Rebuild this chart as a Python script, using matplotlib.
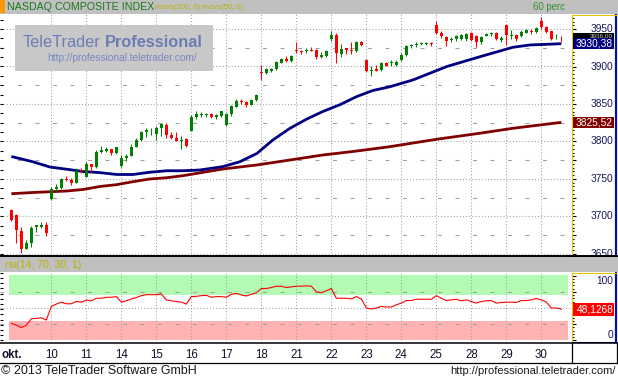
import numpy as np
import matplotlib
matplotlib.use("Agg")
import matplotlib.pyplot as plt
from matplotlib.patches import Rectangle
from matplotlib.ticker import MultipleLocator
from matplotlib.transforms import blended_transform_factory
from matplotlib import font_manager

# ================= data =================
TITLE = "NASDAQ COMPOSITE INDEX"
INDICATORS = "movs(200, 0) movs(50, 0)"
RSI_TITLE = "rsi(14, 70, 30, 1)"
MONTH = "okt."
DAYS = ["9", "10", "11", "14", "15", "16", "17", "18", "21", "22", "23", "24", "25", "28", "29", "30"]
BARS_PER_DAY = [8, 7, 7, 7, 7, 7, 7, 7, 7, 7, 7, 7, 7, 7, 7, 5]

opens = [3709, 3702, 3681, 3657, 3665, 3686, 3686, 3688,
         3723, 3737, 3738, 3750, 3749, 3745, 3762,
         3753, 3770, 3766, 3786, 3787, 3790, 3785,
         3767, 3778, 3781, 3793, 3802, 3812, 3816,
         3810, 3818, 3822, 3809, 3805, 3801, 3803,
         3814, 3832, 3835, 3835, 3837, 3832, 3834,
         3822, 3836, 3846, 3854, 3852, 3849, 3855,
         3893, 3891, 3894, 3897, 3905, 3910, 3907,
         3922, 3921, 3920, 3922, 3922, 3913, 3914,
         3936, 3942, 3917, 3924, 3922, 3920, 3933,
         3908, 3894, 3896, 3895, 3905, 3905, 3902,
         3909, 3915, 3927, 3928, 3930, 3930, 3931,
         3955, 3945, 3939, 3935, 3936, 3937, 3936,
         3945, 3941, 3933, 3941, 3943, 3945, 3935,
         3955, 3941, 3942, 3940, 3945, 3947, 3946,
         3961, 3952, 3947, 3936, 3937]
highs = [3710, 3703, 3686, 3669, 3687, 3689, 3692, 3692,
         3739, 3743, 3751, 3754, 3751, 3764, 3764,
         3772, 3770, 3789, 3794, 3793, 3790, 3793,
         3782, 3783, 3797, 3804, 3814, 3818, 3818,
         3821, 3825, 3824, 3812, 3812, 3807, 3805,
         3835, 3841, 3839, 3838, 3838, 3837, 3841,
         3838, 3849, 3856, 3857, 3854, 3856, 3863,
         3902, 3898, 3898, 3907, 3911, 3914, 3915,
         3932, 3922, 3924, 3926, 3923, 3919, 3922,
         3947, 3944, 3930, 3925, 3932, 3934, 3934,
         3910, 3900, 3902, 3906, 3906, 3909, 3908,
         3918, 3929, 3930, 3932, 3932, 3932, 3932,
         3961, 3947, 3940, 3939, 3942, 3943, 3944,
         3946, 3942, 3941, 3944, 3946, 3946, 3940,
         3955, 3948, 3943, 3949, 3950, 3950, 3953,
         3966, 3954, 3947, 3943, 3940]
lows = [3694, 3664, 3651, 3656, 3659, 3679, 3684, 3674,
        3722, 3734, 3737, 3747, 3742, 3744, 3758,
        3752, 3759, 3765, 3785, 3786, 3782, 3783,
        3766, 3774, 3781, 3792, 3801, 3806, 3808,
        3802, 3807, 3805, 3803, 3800, 3790, 3793,
        3814, 3830, 3833, 3833, 3831, 3830, 3833,
        3821, 3834, 3846, 3850, 3846, 3848, 3854,
        3882, 3890, 3892, 3895, 3904, 3906, 3906,
        3918, 3916, 3918, 3921, 3910, 3911, 3913,
        3934, 3904, 3912, 3916, 3916, 3919, 3927,
        3892, 3887, 3894, 3894, 3900, 3900, 3901,
        3907, 3914, 3924, 3926, 3928, 3929, 3927,
        3943, 3938, 3927, 3932, 3934, 3935, 3934,
        3934, 3926, 3930, 3940, 3941, 3935, 3932,
        3929, 3936, 3934, 3939, 3944, 3943, 3945,
        3950, 3944, 3935, 3936, 3933]
closes = [3695, 3682, 3657, 3664, 3684, 3688, 3688, 3678,
          3737, 3739, 3750, 3748, 3745, 3760, 3760,
          3770, 3766, 3786, 3788, 3790, 3785, 3792,
          3778, 3781, 3793, 3802, 3812, 3815, 3817,
          3818, 3823, 3809, 3805, 3801, 3802, 3794,
          3832, 3836, 3837, 3836, 3832, 3835, 3840,
          3836, 3847, 3854, 3852, 3849, 3855, 3862,
          3891, 3896, 3897, 3906, 3910, 3907, 3914,
          3920, 3919, 3922, 3921, 3912, 3915, 3920,
          3942, 3918, 3923, 3922, 3921, 3932, 3928,
          3894, 3895, 3894, 3905, 3901, 3906, 3906,
          3915, 3927, 3929, 3930, 3931, 3931, 3930,
          3945, 3940, 3934, 3937, 3941, 3942, 3943,
          3935, 3932, 3939, 3943, 3945, 3937, 3938,
          3942, 3942, 3936, 3946, 3948, 3946, 3951,
          3952, 3946, 3937, 3937, 3936]

# moving averages (bar position, value)
ma50_x = [0, 4.3, 7.7, 11.1, 14.3, 17.7, 21.1, 24.3, 27.7, 31.1, 34.3, 37.7,
          42.3, 45.7, 49.1, 52.3, 55.7, 59.1, 62.3, 65.7, 69.1, 72.3, 75.7,
          80.3, 87.1, 93.7, 100.3, 103.7, 110]
ma50_v = [3780, 3773, 3766, 3763, 3760, 3758.5, 3756, 3756, 3759, 3761, 3761, 3762,
          3766.5, 3773, 3784, 3802, 3817.5, 3830, 3840, 3849, 3860, 3868, 3873,
          3882, 3900, 3913, 3925.6, 3928.7, 3930.38]
ma200_x = [0, 4.3, 11.1, 14.3, 17.7, 21.1, 24.3, 27.7, 31.1, 34.3, 42.3, 49.1,
           55.7, 62.3, 69.1, 75.7, 85.1, 93.7, 100.3, 110]
ma200_v = [3730.4, 3732, 3734, 3736, 3740, 3742.5, 3746.4, 3750, 3751.7, 3754.4, 3763.3, 3768.7,
           3775.3, 3782, 3787.3, 3793.1, 3803, 3811, 3817.6, 3825.52]

rsi = [26.5, 23.5, 20, 23.5, 33.5, 34, 35, 31.5,
       52.5, 56, 59, 56.5, 56.5, 60, 59,
       62, 61, 65, 65, 66.5, 66.5, 67.5,
       59, 61, 64, 66, 69, 70.5, 70.5,
       70.5, 71.5, 62.5, 61, 60, 59, 56,
       67.5, 68, 69, 69.5, 66.5, 67.5, 67.5,
       66.5, 71, 72.5, 70, 68.5, 71, 73.5,
       80, 80, 81.5, 83.5, 83.5, 81.5, 82.5,
       83.5, 83.5, 84, 83.5, 75, 73.5, 76.5,
       80, 65, 65, 65, 64, 67.5, 64,
       50, 48.5, 50, 52.5, 51.5, 51.5, 55,
       57.5, 61.5, 61.5, 63.5, 63.5, 63.5, 63.5,
       69, 65, 61.5, 62.5, 63.5, 61, 62.5,
       60, 57.5, 60, 61, 61.5, 57.5, 58.5,
       59, 59, 58.5, 61.5, 61.5, 62.5, 64.5,
       62.5, 59, 50, 50, 48.1268]

PRICE_TICKS = [3650, 3700, 3750, 3800, 3850, 3900, 3950]
RSI_TICKS = [0, 100]

# ================= style =================
W, H = 618, 381
FONT = "Liberation Sans"
GRID = "#a0a0a0"
HEAD = "#c0c0c0"
YELLOW = "#f0c000"
BLUE = "#0010a0"
LABEL = "#16165a"
DOT = (0, (1, 2))
DASH = (0, (3.8, 13))

names = {f.name for f in font_manager.fontManager.ttflist}
HAS_NARROW = "Liberation Sans Narrow" in names
NARROW = "Liberation Sans Narrow" if HAS_NARROW else FONT
plt.rcParams["font.family"] = [FONT, "DejaVu Sans"]


def rect(x0, y0, x1, y1):
    return [x0 / W, 1 - y1 / H, (x1 - x0) / W, (y1 - y0) / H]


def fmt(v, d):
    return f"{v:.{d}f}".replace(".", ",")


def plot_chart():
    o = np.array(opens, float)
    h = np.array(highs, float)
    l = np.array(lows, float)
    c = np.array(closes, float)
    idx = np.arange(len(c))
    day_starts = np.cumsum([0] + BARS_PER_DAY[:-1])[1:]
    xlim = (-2.2667, 112.1333)

    fig = plt.figure(figsize=(W / 100, H / 100), dpi=100)
    fig.patch.set_facecolor("white")

    # ---------- main price panel ----------
    ax = fig.add_axes(rect(0, 14, 572, 256))
    ax.set_xlim(*xlim)
    ax.set_ylim(3647.33, 3970)
    for s in ax.spines.values():
        s.set_visible(False)
    ax.set_xticks([])
    ax.yaxis.set_major_locator(MultipleLocator(12.5))
    ax.tick_params(axis="y", direction="in", length=2.2, width=0.8, labelleft=False)

    for d in day_starts:
        ax.axvline(d, color=GRID, lw=0.75, ls=DOT, zorder=1)
    for v in PRICE_TICKS:
        ax.axhline(v, color=GRID, lw=0.75, ls=DOT, zorder=1)
    for v in PRICE_TICKS[:-1]:
        ax.axhline(v + 25, color=GRID, lw=0.75, ls=DASH, zorder=1)

    ax.plot(ma200_x, ma200_v, color="#800000", lw=2.0, zorder=3, solid_capstyle="butt")
    ax.plot(ma50_x, ma50_v, color="#000080", lw=2.0, zorder=3, solid_capstyle="butt")

    cols = np.where(c >= o, "#008000", "#ff0000")
    ax.vlines(idx, l, h, colors=cols, lw=0.75, zorder=4)
    body = np.maximum(np.abs(c - o), 1.2)
    ax.bar(idx, body, bottom=np.minimum(o, c), width=0.6, color=cols, lw=0, zorder=5)

    # right price scale
    axr = fig.add_axes(rect(572, 15, 616, 256))
    axr.set_xlim(0, 1)
    axr.set_ylim(3647.33, 3968.67)
    axr.set_xticks([])
    axr.yaxis.set_major_locator(MultipleLocator(25))
    axr.yaxis.set_minor_locator(MultipleLocator(5))
    axr.tick_params(axis="y", which="major", direction="in", length=3, width=0.8, labelleft=False)
    axr.tick_params(axis="y", which="minor", direction="in", length=1.6, width=0.8)
    axr.spines["left"].set_color(YELLOW)
    axr.spines["top"].set_color(YELLOW)
    axr.spines["right"].set_color(BLUE)
    axr.spines["right"].set_linewidth(1.6)
    axr.spines["bottom"].set_color(BLUE)
    tr = blended_transform_factory(axr.transAxes, axr.transData)
    for v in PRICE_TICKS:
        axr.text(0.93, v, str(v), transform=tr, ha="right", va="center",
                 fontsize=7.3, color=LABEL, clip_on=False)

    # last-close box sits mostly under the ma50 box, only its top strip shows
    top50 = ma50_v[-1] + 7.3
    axr.add_patch(Rectangle((0.015, top50), 0.945, 7.0, transform=tr,
                            facecolor="black", edgecolor="none", zorder=3))
    axr.text(0.93, top50 + 3.5, fmt(c[-1], 2), transform=tr, ha="right", va="center",
             fontsize=4.6, color="#d0d0d0", zorder=3)
    for k, (v, col) in enumerate([(ma50_v[-1], "#000080"), (ma200_v[-1], "#800000")]):
        axr.add_patch(Rectangle((0.015, v - 7.3), 0.945, 14.6, transform=tr,
                                facecolor=col, edgecolor="none", zorder=4 + k))
        axr.text(0.93, v, fmt(v, 2), transform=tr, ha="right", va="center",
                 fontsize=7.3, color="white", zorder=4 + k)

    # ---------- RSI panel ----------
    ax2 = fig.add_axes(rect(0, 272, 572, 343))
    ax2.set_xlim(*xlim)
    ax2.set_ylim(-3.85, 105.38)
    for s in ax2.spines.values():
        s.set_visible(False)
    ax2.set_xticks([])
    ax2.yaxis.set_major_locator(MultipleLocator(8))
    ax2.tick_params(axis="y", direction="in", length=2.2, width=0.8, labelleft=False)
    band_x = [-0.47, len(c) + 0.33]
    ax2.fill_between(band_x, 70, 100, color="#b3fbb3", lw=0, zorder=0)
    ax2.fill_between(band_x, 0, 30, color="#ffb3b3", lw=0, zorder=0)
    for d in day_starts:
        ax2.axvline(d, color=GRID, lw=0.75, ls=DOT, zorder=1)
    ax2.axhline(50, color=GRID, lw=0.75, ls=DOT, zorder=1)
    for v in (25, 75):
        ax2.axhline(v, color=GRID, lw=0.75, ls=DASH, zorder=1)
    ax2.plot(idx, rsi, color="#ff0000", lw=0.8, zorder=4)

    axr2 = fig.add_axes(rect(572, 273, 616, 342))
    axr2.set_xlim(0, 1)
    axr2.set_ylim(-2.31, 103.85)
    axr2.set_xticks([])
    axr2.yaxis.set_major_locator(MultipleLocator(25))
    axr2.yaxis.set_minor_locator(MultipleLocator(5))
    axr2.tick_params(axis="y", which="major", direction="in", length=3, width=0.8, labelleft=False)
    axr2.tick_params(axis="y", which="minor", direction="in", length=1.6, width=0.8)
    axr2.spines["left"].set_color(YELLOW)
    axr2.spines["top"].set_color(YELLOW)
    axr2.spines["right"].set_color(BLUE)
    axr2.spines["right"].set_linewidth(1.6)
    axr2.spines["bottom"].set_color(BLUE)
    tr2 = blended_transform_factory(axr2.transAxes, axr2.transData)
    axr2.text(0.945, RSI_TICKS[1], str(RSI_TICKS[1]), transform=tr2, ha="right", va="top",
              fontsize=7.3, color=LABEL)
    axr2.text(0.945, RSI_TICKS[0], str(RSI_TICKS[0]), transform=tr2, ha="right", va="bottom",
              fontsize=7.3, color=LABEL)
    axr2.add_patch(Rectangle((0.015, rsi[-1] - 10), 0.945, 20, transform=tr2,
                             facecolor="#ff0000", edgecolor="none", zorder=3))
    axr2.text(0.945, rsi[-1], fmt(rsi[-1], 4), transform=tr2, ha="right", va="center",
              fontsize=7.3, color="white", zorder=4)

    # ---------- frame, headers, dates, footer ----------
    ov = fig.add_axes([0, 0, 1, 1], zorder=10)
    ov.set_xlim(0, W)
    ov.set_ylim(H, 0)
    ov.axis("off")

    ov.add_patch(Rectangle((0, 0), W, 14, facecolor=HEAD, edgecolor="none"))
    ov.add_patch(Rectangle((0, 0), 5, 13, facecolor="#ff9900", edgecolor="none"))
    ov.text(7, 7.5, TITLE, fontsize=7.7, color="#1b7a1b", va="center")
    ov.text(155, 7.5, INDICATORS, fontsize=6.2 if HAS_NARROW else 5.6, color="#b4b400",
            va="center", family=NARROW)
    ov.text(533, 7.5, "60 perc", fontsize=6.9, color="#2f8f2f", va="center")

    ov.add_patch(Rectangle((15, 25), 197.7, 45.7, facecolor="#c8c8c8", edgecolor="none"))
    ov.text(23, 47, "TeleTrader", fontsize=11.8, color="#6c7cb4", va="baseline")
    ov.text(105, 47, "Professional", fontsize=11.8, color="#6c7cb4", va="baseline",
            fontweight="bold")
    ov.text(47, 61, "http://professional.teletrader.com/", fontsize=7.3, color="#7887c3",
            va="baseline")

    ov.plot([0, W], [255.8, 255.8], color="black", lw=1.4)
    ov.add_patch(Rectangle((0, 257), W, 15, facecolor=HEAD, edgecolor="none"))
    ov.text(5, 265, RSI_TITLE, fontsize=7.6, color="#b4b400", va="center")

    ov.plot([0, W], [343, 343], color="black", lw=1.1)
    ov.plot([0, W], [362.5, 362.5], color="black", lw=0.9)
    ov.plot([571.8, 571.8], [343, 362.5], color="black", lw=0.9)
    ov.plot([617.3, 617.3], [343, 362.5], color="black", lw=0.9)

    trd = blended_transform_factory(ax.transData, ov.transData)
    ov.text(2, 354.5, MONTH, fontsize=8.3, color="#10102a", va="center", fontweight="bold")
    for d, lab in zip(day_starts, DAYS[1:]):
        ov.text(d, 354.5, lab, transform=trd, fontsize=8.3, color="#10102a",
                ha="center", va="center")

    ov.text(1, 371.5, "\u00a9 2013 TeleTrader Software GmbH", fontsize=9, color="#1a1a1a",
            va="center")
    ov.text(616, 371.5, "http://professional.teletrader.com/", fontsize=8, color="#1a1a1a",
            ha="right", va="center")

    fig.savefig("out.png", dpi=100)


if __name__ == "__main__":
    plot_chart()
